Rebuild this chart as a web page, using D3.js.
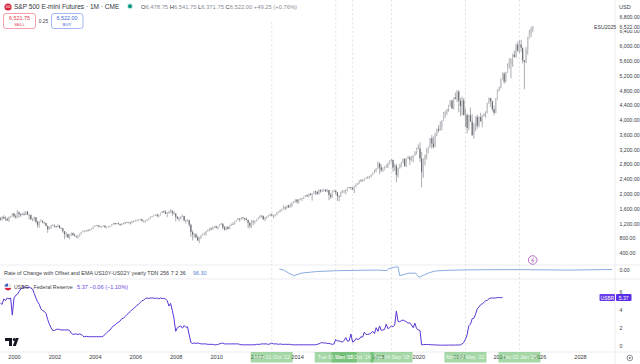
<!DOCTYPE html>
<html>
<head>
<meta charset="utf-8">
<script src="https://cdn.jsdelivr.net/npm/d3@7"></script>
<style>
html,body{margin:0;padding:0;background:#fff;}
svg{display:block;font-family:"Liberation Sans",Arial,sans-serif;}
</style>
</head>
<body>
<div id="chart"></div>
<script>
// monthly bars, May 1999 to Sep 2025
const barStart = "1999-05-01";
const closes = [1302,1373,1329,1320,1283,1363,1389,1469,
1394,1366,1499,1452,1421,1455,1431,1518,1437,1429,1315,1320,
1366,1240,1160,1249,1256,1224,1211,1134,1041,1060,1139,1148,
1130,1107,1147,1077,1067,990,912,916,815,886,936,880,
856,841,848,917,964,975,990,1008,996,1051,1058,1112,
1131,1145,1126,1107,1121,1141,1102,1104,1115,1130,1174,1212,
1181,1203,1181,1157,1192,1191,1234,1220,1229,1207,1249,1248,
1280,1281,1295,1311,1270,1270,1277,1304,1336,1378,1401,1418,
1438,1407,1421,1482,1531,1503,1455,1474,1527,1549,1481,1468,
1379,1331,1323,1386,1400,1280,1267,1283,1165,969,896,903,
826,735,798,873,919,919,987,1021,1057,1036,1096,1115,
1074,1104,1169,1187,1089,1031,1102,1049,1141,1183,1181,1258,
1286,1327,1326,1364,1345,1321,1292,1219,1131,1253,1247,1258,
1312,1366,1408,1398,1310,1362,1379,1407,1441,1412,1416,1426,
1498,1515,1569,1598,1631,1606,1686,1633,1682,1757,1806,1848,
1783,1859,1872,1884,1924,1960,1931,2003,1972,2018,2068,2059,
1995,2105,2068,2086,2107,2063,2104,1972,1920,2079,2080,2044,
1940,1932,2060,2065,2097,2099,2174,2171,2168,2126,2199,2239,
2279,2364,2363,2384,2412,2423,2470,2472,2519,2575,2585,2674,
2824,2714,2641,2648,2705,2718,2816,2902,2914,2711,2760,2507,
2704,2784,2834,2946,2752,2941,2980,2926,2977,3038,3141,3231,
3226,2954,2585,2912,3044,3100,3271,3500,3363,3270,3622,3756,
3714,3811,3973,4181,4204,4297,4395,4523,4307,4605,4567,4766,
4516,4374,4530,4132,4132,3785,4130,3955,3586,3872,4080,3840,
4077,3970,4109,4169,4180,4450,4589,4508,4288,4194,4568,4770,
4846,5096,5254,5036,5277,5460,5522,5648,5762,5705,6032,5882,
6041,5955,5612,5569,5912,6205,6339,6460,6522];
const highs = [1376,1395,1420,1390,1360,1390,1400,1475,
1480,1445,1555,1530,1480,1480,1520,1525,1535,1440,1440,1345,
1385,1375,1270,1270,1315,1290,1240,1215,1140,1110,1165,1175,
1175,1125,1175,1150,1105,1075,995,965,925,905,955,955,
935,865,895,925,975,1015,1010,1020,1040,1055,1065,1115,
1155,1160,1160,1150,1125,1150,1145,1110,1135,1140,1185,1215,
1215,1210,1230,1195,1200,1220,1245,1245,1245,1235,1270,1275,
1300,1300,1315,1325,1330,1285,1285,1310,1340,1390,1405,1435,
1445,1465,1440,1490,1535,1545,1560,1510,1540,1590,1525,1530,
1475,1400,1360,1400,1440,1410,1290,1315,1300,1180,1010,935,
940,875,835,880,930,955,995,1040,1075,1100,1115,1125,
1150,1115,1180,1220,1210,1130,1120,1130,1150,1195,1230,1265,
1300,1345,1345,1365,1370,1345,1355,1305,1230,1290,1290,1280,
1315,1370,1420,1420,1415,1365,1395,1430,1470,1465,1435,1450,
1505,1530,1570,1595,1685,1655,1695,1710,1730,1775,1810,1850,
1850,1860,1885,1895,1925,1965,1985,2005,2020,2020,2075,2090,
2065,2115,2120,2120,2135,2130,2135,2105,2020,2085,2115,2105,
2040,1965,2060,2105,2100,2130,2175,2190,2185,2170,2215,2280,
2300,2370,2400,2395,2420,2450,2480,2490,2520,2580,2655,2695,
2880,2840,2800,2720,2745,2800,2850,2915,2945,2925,2815,2800,
2710,2815,2860,2960,2960,2965,3030,3025,3025,3050,3155,3250,
3340,3395,3135,2960,3065,3235,3280,3515,3590,3550,3650,3765,
3860,3960,3990,4215,4240,4300,4410,4535,4550,4610,4740,4810,
4805,4590,4635,4595,4310,4180,4140,4330,4155,3920,4100,4145,
4100,4195,4130,4180,4235,4465,4610,4595,4520,4390,4590,4825,
4900,5120,5285,5290,5300,5530,5665,5670,5790,5880,6060,6120,
6155,6165,5860,5620,5970,6250,6440,6520,6541];
const lows = [1278,1280,1322,1267,1268,1240,1350,1385,
1350,1330,1340,1360,1375,1425,1415,1430,1425,1305,1295,1255,
1275,1215,1085,1090,1240,1205,1180,1125,945,1040,1060,1125,
1080,1075,1105,1065,1045,950,775,835,805,770,860,875,
845,805,790,845,905,965,960,965,985,995,1030,1045,
1105,1125,1085,1105,1080,1115,1075,1060,1095,1095,1125,1170,
1160,1180,1175,1135,1145,1185,1190,1205,1200,1170,1205,1245,
1260,1255,1275,1285,1245,1220,1225,1270,1290,1330,1360,1385,
1415,1370,1365,1415,1480,1490,1455,1370,1455,1490,1405,1435,
1255,1320,1255,1310,1370,1265,1200,1250,1105,835,740,810,
800,735,665,780,870,890,865,980,990,1015,1030,1085,
1070,1040,1105,1160,1040,1010,1010,1040,1045,1130,1165,1175,
1255,1290,1250,1295,1310,1260,1285,1075,1065,1080,1155,1195,
1255,1310,1345,1355,1290,1265,1325,1370,1395,1400,1340,1385,
1420,1485,1500,1535,1585,1555,1605,1625,1630,1640,1745,1765,
1735,1735,1835,1810,1860,1915,1925,1905,1960,1815,2000,1970,
1970,1985,2030,2050,2065,2060,2040,1830,1865,1890,2050,1985,
1805,1800,1920,2020,2025,1985,2070,2150,2110,2110,2020,2180,
2240,2275,2320,2320,2350,2405,2405,2415,2450,2505,2565,2605,
2670,2530,2590,2590,2640,2705,2700,2795,2860,2600,2625,2315,
2440,2680,2725,2825,2725,2730,2945,2780,2890,2855,3035,3070,
3215,2860,2175,2440,2765,2935,3105,3250,3220,3230,3265,3560,
3660,3715,3720,3965,4055,4135,4225,4360,4300,4280,4560,4485,
4210,4100,4125,4120,3805,3635,3720,3950,3575,3490,3695,3760,
3800,3940,3800,4090,4060,4180,4440,4350,4230,4125,4180,4550,
4800,4875,5095,4980,5010,5270,5390,5125,5435,5690,5680,5835,
5810,5840,5530,4832,5540,5770,6200,6240,6371];

// USBR, monthly, May 1999 to Mar 2024
const rates = [4.7,4.6,5.2,5.0,5.3,5.2,5.3,3.4,
5.3,5.6,5.7,6.0,6.3,6.4,6.5,6.5,6.4,6.5,6.4,6.3,
5.8,5.3,4.9,4.6,4.1,3.9,3.8,3.6,2.9,2.4,2.0,1.7,
1.7,1.8,1.85,1.8,1.75,1.75,1.75,1.75,1.75,1.7,1.4,1.25,
1.3,1.3,1.25,1.3,1.25,1.05,1.0,1.05,1.0,1.0,1.0,1.0,
1.0,1.0,1.0,1.0,1.0,1.05,1.25,1.45,1.6,1.75,2.0,2.2,
2.3,2.5,2.6,2.75,3.0,3.05,3.25,3.45,3.6,3.8,4.0,4.1,
4.3,4.5,4.6,4.8,5.0,5.05,5.25,5.3,5.25,5.3,5.3,5.3,
5.25,5.3,5.2,5.3,5.25,5.25,5.2,5.0,4.4,4.7,3.9,3.0,
1.6,2.0,2.1,2.2,1.95,2.25,2.05,2.1,1.2,0.35,0.25,0.3,
0.25,0.3,0.25,0.2,0.2,0.2,0.2,0.15,0.15,0.15,0.15,0.1,
0.1,0.15,0.2,0.25,0.3,0.2,0.2,0.2,0.2,0.2,0.2,0.2,
0.2,0.2,0.15,0.1,0.1,0.1,0.1,0.1,0.1,0.1,0.1,0.1,
0.15,0.15,0.15,0.2,0.2,0.2,0.2,0.15,0.2,0.3,0.2,0.2,
0.2,0.15,0.2,0.15,0.15,0.15,0.15,0.15,0.15,0.1,0.1,0.1,
0.1,0.1,0.1,0.1,0.1,0.1,0.1,0.1,0.1,0.1,0.1,0.1,
0.15,0.2,0.3,0.35,0.3,0.3,0.25,0.25,0.2,0.15,0.2,0.7,
0.5,0.55,0.45,0.4,0.6,0.9,0.5,0.55,1.3,0.4,0.5,0.8,
0.7,0.75,1.0,0.95,1.5,1.25,1.25,1.3,1.4,1.6,1.35,2.0,
1.6,2.2,1.7,1.75,1.8,2.4,1.9,2.0,2.2,2.1,2.3,3.85,
2.7,2.65,2.8,2.85,2.75,2.65,2.5,2.55,2.3,2.0,2.5,1.9,
1.75,1.7,0.1,0.12,0.13,0.13,0.13,0.12,0.1,0.1,0.08,0.08,
0.07,0.06,0.06,0.06,0.06,0.06,0.07,0.07,0.07,0.07,0.07,0.08,
0.08,0.08,0.2,0.35,0.7,1.2,2.2,2.4,3.0,3.05,3.5,4.1,
4.3,4.55,4.65,4.8,5.0,5.05,5.2,5.3,5.3,5.3,5.3,5.35,
5.35,5.33,5.37];

const rocDates = ["2013-02-15","2013-05-01","2013-08-01","2013-11-01","2014-04-01","2015-01-01","2016-01-01","2017-01-01","2018-01-01","2018-06-15","2018-07-15","2018-11-15","2019-01-01","2019-02-01","2019-07-01","2019-11-15","2020-01-15","2020-07-01","2020-11-01","2021-06-01","2022-06-01","2023-06-01","2025-01-01","2027-06-01","2029-08-01"];
const rocValues = [5,-5,-35,-62,-35,-20,-12,-8,-6,-12,8,25,25,-62,-38,-36,-78,-35,-15,-8,-4,-2,-1,-6,0];

const priceTicks = [400,800,1200,1600,2000,2400,2800,3200,3600,4000,4400,4800,5200,5600,6000,6400,6800];
const yearTicks = [2000,2002,2004,2006,2008,2010,2012,2014,2016,2018,2020,2022,2024,2026,2028];
const rateTicks = [0,2,4,6];
const rocTicks = [0];
const eventDates = ["2012-10-01","2015-12-01","2016-10-03","2018-09-04","2022-05-02","2025-01-02"];
const eventLabels = ["Mon 01 Oct '12","Tue 01 Dec '15","Mon 03 Oct '16","Tue 04 Sep '18","Mon 02 May '22","Thu 02 Jan '25"];

const width = 640, height = 364;
const axisX = 615, timeY = 352;
const pane1 = 265, pane2 = 279;
const fmt = d3.format(",.2f");
const textCol = "#3a3d45";

const svg = d3.select("#chart").append("svg")
  .attr("width",width).attr("height",height)
  .attr("viewBox",`0 0 ${width} ${height}`);

const parse = d3.utcParse("%Y-%m-%d");
const yearDate = y => new Date(Date.UTC(y,0,1));
const start = parse(barStart);

const x = d3.scaleUtc().domain([yearDate(2000),yearDate(2028)]).range([14,580]);
const y = d3.scaleLinear().domain([400,6000]).range([253,46]);
const yRate = d3.scaleLinear().domain([0,4]).range([345.7,309.7]);
const yRoc = d3.scaleLinear().domain([-100,100]).range([279.5,259.5]);

const bars = closes.map((c,i)=>({
  date:d3.utcMonth.offset(start,i),
  open:i?closes[i-1]:1335, high:highs[i], low:lows[i], close:c
}));
const rateData = rates.map((r,i)=>({date:d3.utcMonth.offset(start,i),value:r}));
const rocData = rocDates.map((d,i)=>({date:parse(d),value:rocValues[i]}));

// pane separators
svg.append("g").selectAll("line")
  .data([pane1,pane2,timeY]).enter().append("line")
  .attr("x1",0).attr("x2",width).attr("y1",d=>d).attr("y2",d=>d)
  .attr("stroke","#e8e9ed").attr("stroke-width",0.8);
svg.append("line").attr("x1",axisX).attr("x2",axisX).attr("y1",0).attr("y2",height)
  .attr("stroke","#e8e9ed").attr("stroke-width",0.8);

// event lines
svg.append("g").selectAll("line")
  .data(eventDates).enter().append("line")
  .attr("x1",d=>x(parse(d))).attr("x2",d=>x(parse(d)))
  .attr("y1",0).attr("y2",timeY)
  .attr("stroke","#d6d8dc").attr("stroke-width",0.7).attr("stroke-dasharray","2.2,2.2");

// header backing, the legend hides the first event line
svg.append("rect").attr("x",0).attr("y",0).attr("width",300).attr("height",22).attr("fill","#fff");

// candles
const candles = svg.append("g");
candles.selectAll("line").data(bars).enter().append("line")
  .attr("x1",d=>x(d.date)).attr("x2",d=>x(d.date))
  .attr("y1",d=>y(d.high)).attr("y2",d=>y(d.low))
  .attr("stroke","#7d8087").attr("stroke-width",0.65);
candles.selectAll("rect").data(bars).enter().append("rect")
  .attr("x",d=>x(d.date)-0.6).attr("width",1.2)
  .attr("y",d=>y(Math.max(d.open,d.close)))
  .attr("height",d=>Math.max(0.5,Math.abs(y(d.open)-y(d.close))))
  .attr("fill",d=>d.close>=d.open?"#c4c6cb":"#6a6d74");

// roc line
svg.append("path").datum(rocData)
  .attr("fill","none").attr("stroke","#7ea3dd").attr("stroke-width",0.9)
  .attr("d",d3.line().x(d=>x(d.date)).y(d=>yRoc(d.value)));

// rate line
svg.append("path").datum(rateData)
  .attr("fill","none").attr("stroke","#5a34d6").attr("stroke-width",1)
  .attr("d",d3.line().x(d=>x(d.date)).y(d=>yRate(d.value)));

// event labels under the year axis
const events = svg.append("g");
const labelW = 42;
events.selectAll("rect").data(eventDates).enter().append("rect")
  .attr("x",d=>x(parse(d))-labelW/2).attr("y",352).attr("width",labelW).attr("height",10.5)
  .attr("fill","#4caf50").attr("fill-opacity",0.5);

// axes
const xAxis = svg.append("g").attr("transform",`translate(0,${timeY})`)
  .call(d3.axisBottom(x).tickValues(yearTicks.map(yearDate)).tickFormat(d3.utcFormat("%Y")).tickSize(0).tickPadding(3.5));
const yAxis = svg.append("g").attr("transform",`translate(${axisX},0)`)
  .call(d3.axisRight(y).tickValues(priceTicks).tickFormat(fmt).tickSize(0).tickPadding(4.5));
const rocAxis = svg.append("g").attr("transform",`translate(${axisX},0)`)
  .call(d3.axisRight(yRoc).tickValues(rocTicks).tickFormat(fmt).tickSize(0).tickPadding(4.5));
const rateAxis = svg.append("g").attr("transform",`translate(${axisX},0)`)
  .call(d3.axisRight(yRate).tickValues(rateTicks).tickFormat(d3.format("d")).tickSize(0).tickPadding(4.5));
[yAxis,rocAxis,rateAxis].forEach(a=>{
  a.select(".domain").remove();
  a.selectAll("text").attr("font-size",5.2).attr("fill",textCol).attr("font-family","inherit");
});
xAxis.select(".domain").remove();
xAxis.selectAll("text").attr("font-size",5.6).attr("fill",textCol).attr("font-family","inherit");

events.raise();
events.selectAll("text").data(eventDates).enter().append("text")
  .attr("x",d=>x(parse(d))).attr("y",359.3).attr("text-anchor","middle")
  .attr("font-size",5.4).attr("fill","#ffffff").attr("fill-opacity",0.85)
  .text((d,i)=>eventLabels[i]);

// small text helper
const label = (px,py,txt,size,col,anchor) => svg.append("text")
  .attr("x",px).attr("y",py).attr("font-size",size).attr("fill",col)
  .attr("text-anchor",anchor||"start").text(txt);

// header
svg.append("circle").attr("cx",8).attr("cy",7).attr("r",3.6).attr("fill","#d8263c");
label(8,8.2,"500",2.8,"#fff","middle");
label(14,9.3,"S&P 500 E-mini Futures · 1M · CME",6.55,"#33363e");
svg.append("circle").attr("cx",130).attr("cy",6.3).attr("r",2).attr("fill","#089981");
svg.append("circle").attr("cx",130).attr("cy",6.3).attr("r",3.2).attr("fill","#089981").attr("fill-opacity",0.15);
const ohlc = svg.append("text").attr("x",141).attr("y",9).attr("font-size",5.8);
[["O",textCol],["6,478.75 ",null],["H",textCol],["6,541.75 ",null],["L",textCol],["6,371.75 ",null],["C",textCol],["6,522.00 +49.25 (+0.76%)",null]]
  .forEach(t=>{ ohlc.append("tspan").attr("fill",t[1]||"#8a8e98").text(t[0]); });

// buy and sell boxes
svg.append("rect").attr("x",3.5).attr("y",13.5).attr("width",32).attr("height",15).attr("rx",2.5)
  .attr("fill","#fff").attr("stroke","#f08a95").attr("stroke-width",0.8);
svg.append("rect").attr("x",51.5).attr("y",13.5).attr("width",31.5).attr("height",15).attr("rx",2.5)
  .attr("fill","#fff").attr("stroke","#8ea6ee").attr("stroke-width",0.8);
label(19.5,20,"6,521.75",5.4,"#e5394c","middle");
label(19.5,26,"SELL",4.4,"#e5394c","middle");
label(67,20,"6,522.00",5.4,"#3f66e0","middle");
label(67,26,"BUY",4.4,"#3f66e0","middle");
label(43.5,23,"0.25",4.8,textCol,"middle");

// currency and contract tags
label(619,9,"USD",5.6,textCol);
svg.append("rect").attr("x",616).attr("y",22).attr("width",24).attr("height",8).attr("fill","#fff");
label(619.5,28.6,"6,522.00",5.2,textCol);
label(594,28.6,"ESU2025",5.2,textCol);

// pane legends
label(4,275.3,"Rate of Change with Offset and EMA US10Y-US02Y yearly TDN 256 7 2 36",5.45,textCol);
label(193,275.3,"96.30",5.45,"#5b7fd6");
label(14,289,"USBR · Federal Reserve",5.3,textCol);
label(77,289,"5.37 −0.06 (−1.10%)",5.6,"#6b47dc");

// flag icon
svg.append("circle").attr("cx",8).attr("cy",287).attr("r",3.6).attr("fill","#e8e9ee");
svg.append("path").attr("d","M4.6 288h6.8a3.6 3.6 0 0 1-6.8 0z").attr("fill","#d8263c");
svg.append("path").attr("d","M8 283.4a3.6 3.6 0 0 0-3.5 3.2H8z").attr("fill","#3c5fc4");

// USBR tag
svg.append("rect").attr("x",599.5).attr("y",294).attr("width",15.5).attr("height",7).attr("rx",1).attr("fill","#6a3de8");
svg.append("rect").attr("x",616).attr("y",294).attr("width",15.5).attr("height",7).attr("rx",1).attr("fill","#5a2ee6");
label(607.5,299.6,"USBR",4.8,"#fff","middle");
label(623.7,299.6,"5.37",5.2,"#fff","middle");

// bolt marker
svg.append("circle").attr("cx",532.7).attr("cy",260).attr("r",4.3)
  .attr("fill","#fff").attr("stroke","#a24fb5").attr("stroke-width",0.8);
svg.append("path").attr("d","M533.9 257.5L531.5 260.4h2.3l-1.2 2.3").attr("fill","none")
  .attr("stroke","#a24fb5").attr("stroke-width",0.7);

// logo
svg.append("path").attr("d","M5 338h7v8h-3v-5h-4z M12.8 346l3-8h3l-3 8z").attr("fill","#131722");
svg.append("circle").attr("cx",14.2).attr("cy",339.6).attr("r",1.5).attr("fill","#131722");

// settings icon
svg.append("circle").attr("cx",629.8).attr("cy",358).attr("r",2.8)
  .attr("fill","none").attr("stroke","#6f737d").attr("stroke-width",0.8);
svg.append("circle").attr("cx",629.8).attr("cy",358).attr("r",1)
  .attr("fill","#6f737d");
</script>
</body>
</html>
